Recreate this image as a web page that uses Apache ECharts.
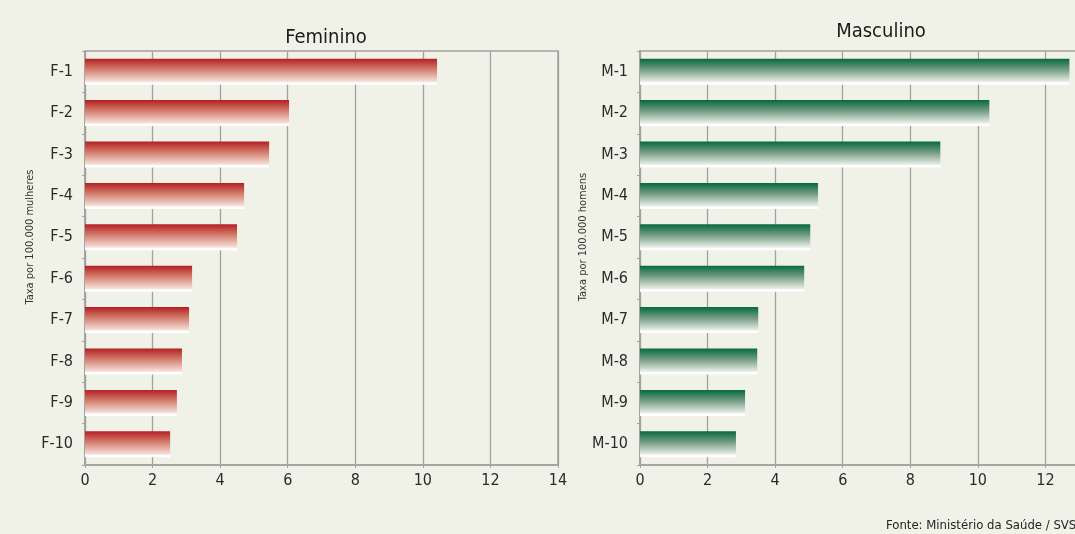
<!DOCTYPE html>
<html>
<head>
<meta charset="utf-8">
<script src="https://cdn.jsdelivr.net/npm/echarts@6/dist/echarts.min.js"></script>
<style>
  html, body { margin: 0; padding: 0; background: #f1f2e7; }
  #chart { width: 1075px; height: 534px; }
</style>
</head>
<body>
<div id="chart"></div>
<script>
// categorias e taxas por 100.000
const femCategories = ["F-1", "F-2", "F-3", "F-4", "F-5", "F-6", "F-7", "F-8", "F-9", "F-10"];
const femValues = [10.42, 6.04, 5.45, 4.71, 4.50, 3.17, 3.08, 2.87, 2.72, 2.52];
const mascCategories = ["M-1", "M-2", "M-3", "M-4", "M-5", "M-6", "M-7", "M-8", "M-9", "M-10"];
const mascValues = [12.71, 10.34, 8.89, 5.27, 5.04, 4.86, 3.50, 3.47, 3.11, 2.84];

const FONT = "'Liberation Sans Narrow', 'DejaVu Sans Condensed', 'Liberation Sans', sans-serif";
const GRAY = "#a0a0a0";

function barGradient(top, mid, low) {
  return new echarts.graphic.LinearGradient(0, 0, 0, 1, [
    { offset: 0, color: top },
    { offset: 0.4, color: mid },
    { offset: 0.88, color: low },
    { offset: 0.92, color: "#ffffff" },
    { offset: 1, color: "#ffffff" }
  ]);
}

function valueAxis(gridIndex) {
  return {
    type: "value",
    gridIndex: gridIndex,
    min: 0,
    max: 14,
    interval: 2,
    axisLine: { show: true, lineStyle: { color: GRAY, width: 1.5 } },
    axisTick: { show: true, length: 3, lineStyle: { color: GRAY } },
    axisLabel: { color: "#2a2a2a", fontFamily: FONT, fontSize: 16, margin: 8 },
    splitLine: { show: true, lineStyle: { color: GRAY, width: 1.3 } }
  };
}

function catAxis(gridIndex, data) {
  return {
    type: "category",
    gridIndex: gridIndex,
    data: data,
    inverse: true,
    axisLine: { show: true, lineStyle: { color: GRAY, width: 1.5 } },
    axisTick: { show: true, length: 3, lineStyle: { color: GRAY } },
    axisLabel: { color: "#2a2a2a", fontFamily: FONT, fontSize: 16, margin: 12 }
  };
}

const chart = echarts.init(document.getElementById("chart"));
chart.setOption({
  backgroundColor: "#f1f2e7",
  animation: false,
  title: [
    { text: "Feminino", left: 321, top: 23, textAlign: "center",
      textStyle: { fontFamily: FONT, fontSize: 20, fontWeight: "normal", color: "#1a1a1a" } },
    { text: "Masculino", left: 876, top: 17, textAlign: "center",
      textStyle: { fontFamily: FONT, fontSize: 20, fontWeight: "normal", color: "#1a1a1a" } }
  ],
  grid: [
    { left: 85, top: 51, width: 473, height: 414, outerBoundsMode: "none",
      show: true, borderColor: GRAY, borderWidth: 1.5, backgroundColor: "transparent" },
    { left: 640, top: 51, width: 473, height: 414, outerBoundsMode: "none",
      show: true, borderColor: GRAY, borderWidth: 1.5, backgroundColor: "transparent" }
  ],
  xAxis: [valueAxis(0), valueAxis(1)],
  yAxis: [catAxis(0, femCategories), catAxis(1, mascCategories)],
  series: [
    {
      name: "Feminino",
      type: "bar",
      xAxisIndex: 0,
      yAxisIndex: 0,
      barWidth: 26,
      data: femValues,
      itemStyle: { color: barGradient("#b41f24", "#d27a6a", "#f6e0da") }
    },
    {
      name: "Masculino",
      type: "bar",
      xAxisIndex: 1,
      yAxisIndex: 1,
      barWidth: 26,
      data: mascValues,
      itemStyle: { color: barGradient("#066a3e", "#6f9a80", "#e8ede6") }
    }
  ],
  graphic: [
    { type: "text", x: 30, y: 237, rotation: Math.PI / 2,
      style: { text: "Taxa por 100.000 mulheres", fontFamily: FONT, fontSize: 11, fill: "#333",
               align: "center", verticalAlign: "middle" } },
    { type: "text", x: 583, y: 237, rotation: Math.PI / 2,
      style: { text: "Taxa por 100.000 homens", fontFamily: FONT, fontSize: 11, fill: "#333",
               align: "center", verticalAlign: "middle" } },
    { type: "text", x: 886, y: 526,
      style: { text: "Fonte: Ministério da Saúde / SVS", fontFamily: FONT, fontSize: 13, fill: "#222",
               align: "left", verticalAlign: "middle" } }
  ]
});
</script>
</body>
</html>
